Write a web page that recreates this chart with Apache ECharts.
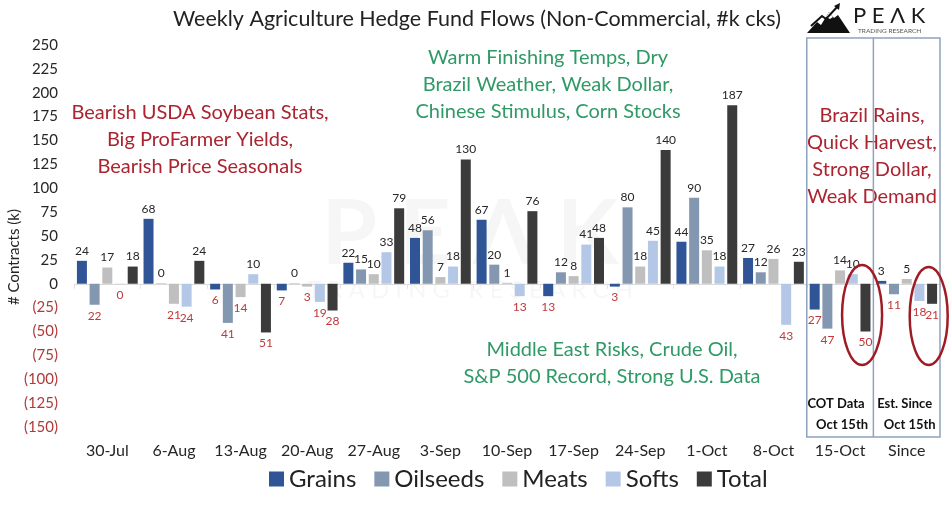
<!DOCTYPE html>
<html>
<head>
<meta charset="utf-8">
<script src="https://cdn.jsdelivr.net/npm/echarts@6/dist/echarts.min.js"></script>
<style>
html,body{margin:0;padding:0;background:#fff;}
#chart{width:950px;height:505px;}
</style>
</head>
<body>
<div id="chart"></div>
<script>
// ---- data ----
const categories = ['30-Jul','6-Aug','13-Aug','20-Aug','27-Aug','3-Sep','10-Sep','17-Sep','24-Sep','1-Oct','8-Oct','15-Oct','Since'];
const grains   = [24, 68, -6, -7, 22, 48, 67, -13, -3, 44, 27, -27, 3];
const oilseeds = [-22, 0.4, -41, 0.4, 15, 56, 20, 12, 80, 90, 12, -47, -11];
const meats    = [17, -21, -14, -3, 10, 7, 1, 8, 18, 35, 26, 14, 5];
const softs    = [-0.3, -24, 10, -19, 33, 18, -13, 41, 45, 18, -43, 10, -18];
const total    = [18, 24, -51, -28, 79, 130, 76, 48, 140, 187, 23, -50, -21];
const seriesNames = ['Grains','Oilseeds','Meats','Softs','Total'];
const yTicks = {min: -150, max: 250, step: 25};

const colors = ['#2f5597', '#8497b0', '#bfbfbf', '#b4c7e7', '#3b3b3b'];
const FONT = 'Lato';
const RED = '#c0393b';

const posLabel = {show: true, position: 'top', distance: 4, color: '#262626', fontSize: 12, fontFamily: FONT,
  formatter: p => Math.round(Math.abs(p.value))};
const negLabel = {show: true, position: 'bottom', distance: 5, color: RED, fontSize: 12, fontFamily: FONT,
  formatter: p => Math.round(Math.abs(p.value))};

function mk(name, arr, i) {
  return {
    name: name, type: 'bar', xAxisIndex: 0, yAxisIndex: 0,
    barWidth: 10, barGap: '27%',
    itemStyle: {color: colors[i]},
    data: arr.map(v => ({value: v, label: v < 0 ? negLabel : posLabel})),
    z: 3
  };
}

const chart = echarts.init(document.getElementById('chart'), null, {renderer: 'canvas'});
const option = {
  animation: false,
  backgroundColor: '#fff',
  textStyle: {fontFamily: FONT},
  grid: {left: 74, right: 10, top: 45, bottom: 78, containLabel: false},
  legend: {
    data: seriesNames, bottom: 9, left: 264, icon: 'rect',
    itemWidth: 15, itemHeight: 15, itemGap: 18,
    textStyle: {fontSize: 24, color: '#222', fontFamily: FONT}
  },
  xAxis: [
    {type: 'category', data: categories, axisLine: {onZero: true, lineStyle: {color: '#d9d9d9'}},
     axisTick: {show: true, lineStyle: {color: '#e3e3e3'}}, axisLabel: {show: false}},
    {type: 'category', data: categories, position: 'bottom', axisLine: {show: false, onZero: false},
     axisTick: {show: false}, axisLabel: {show: true, interval: 0, fontSize: 16, color: '#262626', fontFamily: FONT, margin: 16}}
  ],
  yAxis: {
    type: 'value', min: yTicks.min, max: yTicks.max, interval: yTicks.step,
    splitLine: {show: false}, axisLine: {show: false}, axisTick: {show: false},
    axisLabel: {
      margin: 16, fontSize: 15, fontFamily: FONT,
      formatter: v => v < 0 ? '{n|(' + (-v) + ')}' : '{p|' + v + '}',
      rich: {n: {color: '#b03a3a', fontSize: 15, fontFamily: FONT}, p: {color: '#262626', fontSize: 15, fontFamily: FONT}}
    }
  },
  series: [mk('Grains', grains, 0), mk('Oilseeds', oilseeds, 1), mk('Meats', meats, 2), mk('Softs', softs, 3), mk('Total', total, 4)]
};
chart.setOption(option);

// annotation positions derived from axis
const c0 = chart.convertToPixel({xAxisIndex: 0}, categories[0]);
const cN = chart.convertToPixel({xAxisIndex: 0}, categories[categories.length - 1]);
const band = (cN - c0) / (categories.length - 1);
const c15 = chart.convertToPixel({xAxisIndex: 0}, '15-Oct');
const boxL = c15 - band / 2, boxM = c15 + band / 2, boxR = cN + band / 2;

const txt = (x, y, s, color, size, extra) => Object.assign({
  type: 'text', x: x, y: y,
  style: Object.assign({text: s, fill: color, font: (size) + 'px ' + FONT, textAlign: 'center', textVerticalAlign: 'middle', lineHeight: 27}, extra || {})
});

const GREEN = '#2f9a66';
const DRED = '#ab2430';
chart.setOption({
  graphic: [
    // watermark
    {type: 'text', x: 470, y: 235, z: 0, style: {text: 'P E Λ K', fill: 'rgba(0,0,0,0.035)', font: 'bold 90px ' + FONT, textAlign: 'center', textVerticalAlign: 'middle'}},
    {type: 'text', x: 470, y: 290, z: 0, style: {text: 'T R A D I N G   R E S E A R C H', fill: 'rgba(0,0,0,0.035)', font: '24px ' + FONT, textAlign: 'center', textVerticalAlign: 'middle'}},
    // title
    txt(477, 19, 'Weekly Agriculture Hedge Fund Flows (Non-Commercial, #k cks)', '#222', 21.5),
    // y axis name
    {type: 'text', x: 14, y: 257, rotation: Math.PI / 2, style: {text: '# Contracts (k)', fill: '#262626', font: '15px ' + FONT, textAlign: 'center', textVerticalAlign: 'middle'}},
    // annotations
    txt(200, 140, 'Bearish USDA Soybean Stats,\nBig ProFarmer Yields,\nBearish Price Seasonals', DRED, 20),
    txt(548, 85, 'Warm Finishing Temps, Dry\nBrazil Weather, Weak Dollar,\nChinese Stimulus, Corn Stocks', GREEN, 20),
    txt(612, 363, 'Middle East Risks, Crude Oil,\nS&P 500 Record, Strong U.S. Data', GREEN, 20),
    txt(872, 156, 'Brazil Rains,\nQuick Harvest,\nStrong Dollar,\nWeak Demand', DRED, 20),
    // boxes
    {type: 'rect', z: 1, shape: {x: boxL, y: 38, width: boxR - boxL, height: 399}, style: {fill: 'none', stroke: '#8ea3bf', lineWidth: 1.5}},
    {type: 'line', z: 1, shape: {x1: boxM, y1: 38, x2: boxM, y2: 437}, style: {stroke: '#8ea3bf', lineWidth: 1.5}},
    txt(c15 - 4, 404, 'COT Data', '#111', 13, {font: 'bold 13px ' + FONT}),
    txt(c15 + 2, 425, 'Oct 15th', '#111', 13, {font: 'bold 13px ' + FONT}),
    txt(cN - 2, 404, 'Est. Since', '#111', 13, {font: 'bold 13px ' + FONT}),
    txt(cN + 3, 425, 'Oct 15th', '#111', 13, {font: 'bold 13px ' + FONT}),
    // ellipses
    {type: 'ellipse', z: 10, shape: {cx: c15 + 22, cy: 315, rx: 20, ry: 50}, style: {fill: 'none', stroke: '#a01c24', lineWidth: 2.5}},
    {type: 'ellipse', z: 10, shape: {cx: cN + 22, cy: 316, rx: 19, ry: 49}, style: {fill: 'none', stroke: '#a01c24', lineWidth: 2.5}},
    // logo
    {type: 'polygon', z: 5, shape: {points: [[807, 33], [817, 22], [821, 25], [829, 12], [834, 18], [838, 15], [850, 33]]}, style: {fill: '#111'}},
    {type: 'polygon', z: 6, shape: {points: [[826, 17], [829, 12], [833, 17], [830, 19]]}, style: {fill: '#fff'}},
    {type: 'polyline', z: 6, shape: {points: [[811, 26], [822, 16], [826, 19], [838, 6]]}, style: {stroke: '#111', lineWidth: 2, fill: 'none'}},
    {type: 'polygon', z: 6, shape: {points: [[834, 6], [840, 3], [839, 10]]}, style: {fill: '#111'}},
    {type: 'text', z: 6, x: 853, y: 16, style: {text: 'P E Λ K', fill: '#1a1a1a', font: '22px ' + FONT, textAlign: 'left', textVerticalAlign: 'middle'}},
    {type: 'text', z: 6, x: 858, y: 31, style: {text: 'TRADING RESEARCH', fill: '#555', font: '6.5px ' + FONT, textAlign: 'left', textVerticalAlign: 'middle'}}
  ]
});
</script>
</body>
</html>
